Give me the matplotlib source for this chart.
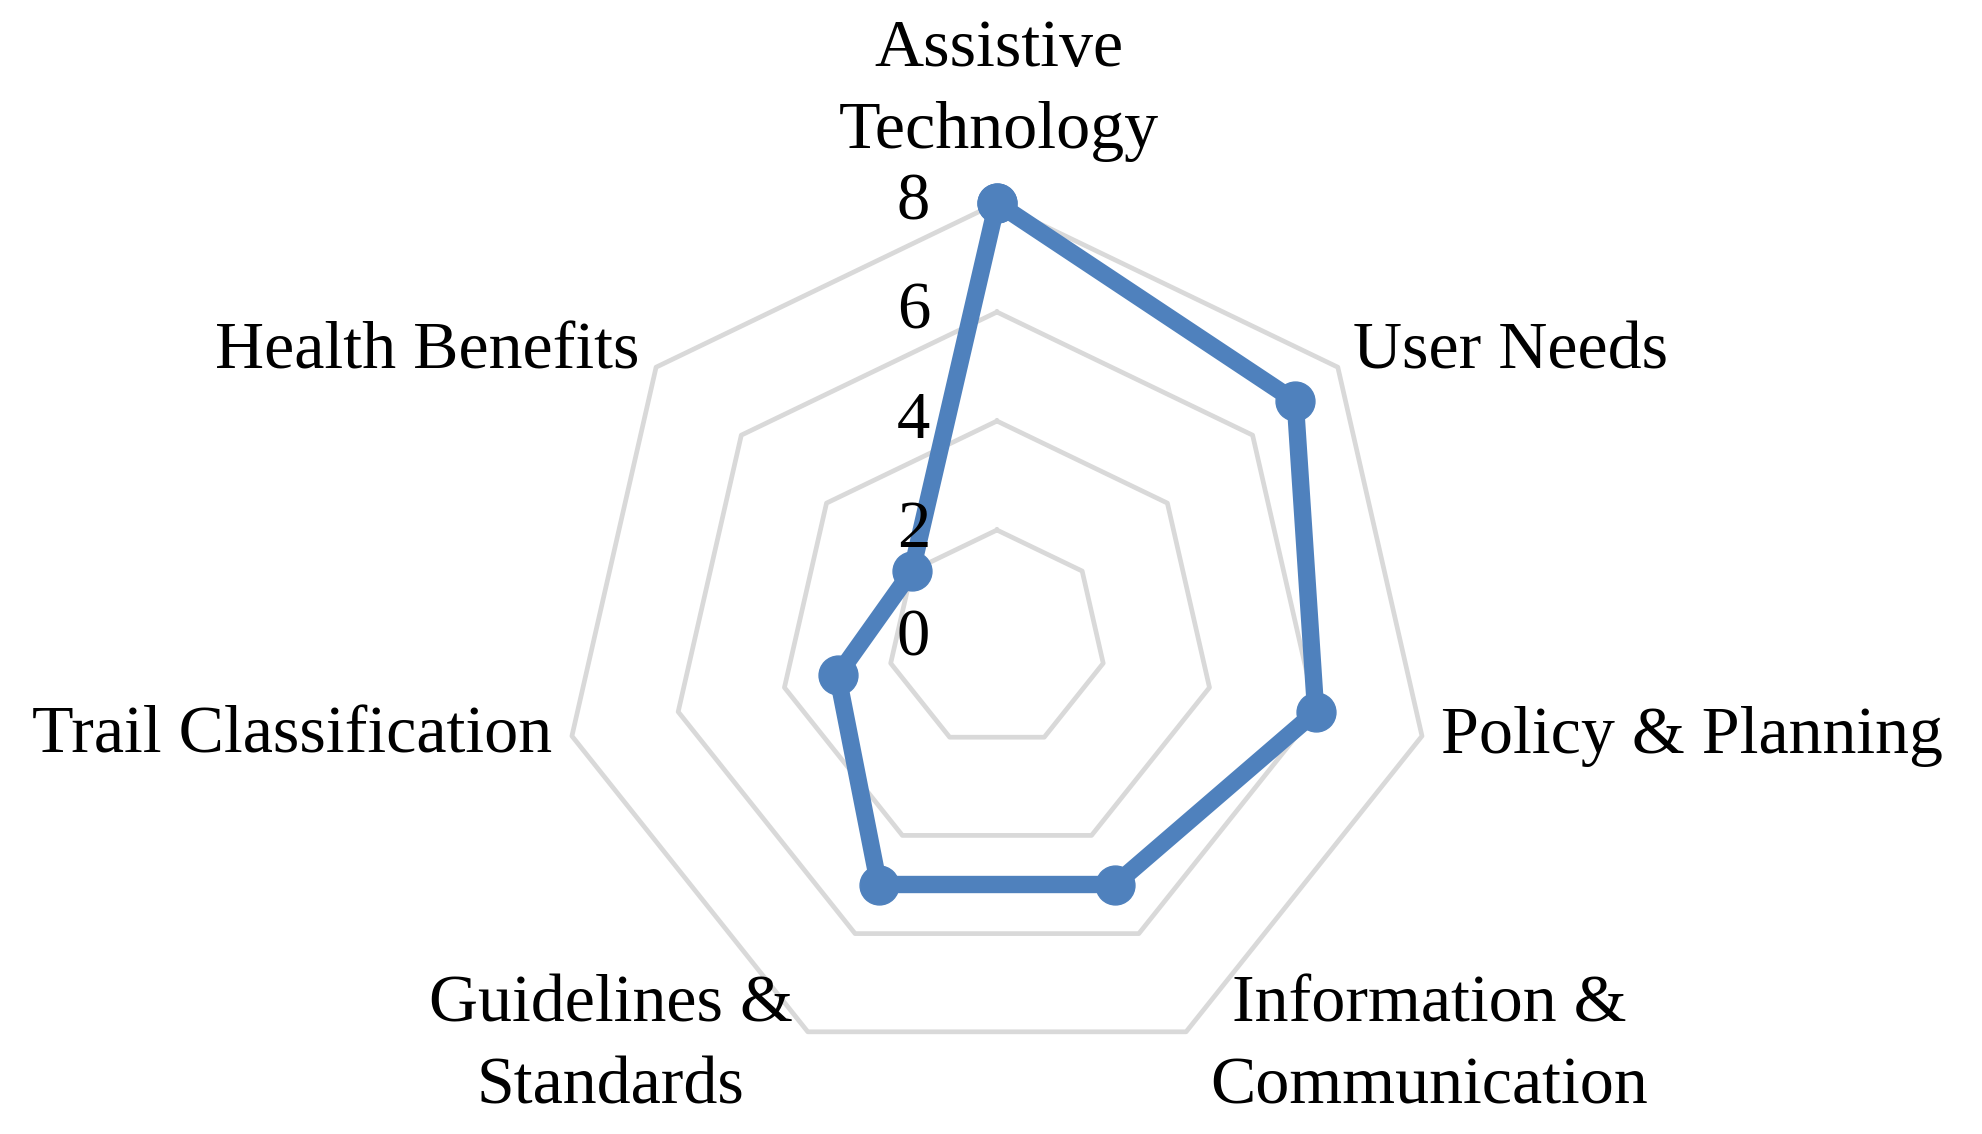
import numpy as np
import matplotlib
matplotlib.use("Agg")
import matplotlib.pyplot as plt

categories = ["Assistive\nTechnology", "User Needs", "Policy & Planning",
              "Information &\nCommunication", "Guidelines &\nStandards",
              "Trail Classification", "Health Benefits"]
values = [8, 7, 6, 5, 5, 3, 2]
grid_levels = [2, 4, 6, 8]
tick_labels = ["0", "2", "4", "6", "8"]

blue = "#4F81BD"
grid_color = "#D9D9D9"
plt.rcParams["font.family"] = ["Liberation Serif", "DejaVu Serif"]

fig = plt.figure(figsize=(19.83, 11.34), dpi=100)
ax = fig.add_axes([0.2829, 0.052, 0.4397, 0.769], projection="polar")
ax.set_theta_offset(np.pi / 2)
ax.set_theta_direction(-1)
ax.set_ylim(0, 8)
ax.axis("off")

n = len(categories)
angles = np.linspace(0, 2 * np.pi, n, endpoint=False)
closed = np.append(angles, angles[0])

# heptagon gridlines
for lvl in grid_levels:
    ax.plot(closed, [lvl] * (n + 1), color=grid_color, lw=3.4, zorder=1,
            clip_on=False)

# data series
vals = values + values[:1]
ax.plot(closed, vals, color=blue, lw=12.5, marker="o", markersize=28,
        solid_joinstyle="round", zorder=3, clip_on=False)

# radial tick labels on the vertical axis
for i, t in enumerate(tick_labels):
    ax.annotate(t, xy=(0, i * 2), xytext=(-60, 0), textcoords="offset points",
                ha="center", va="center", fontsize=48, zorder=4,
                annotation_clip=False)

# category labels (offsets in points from the outer vertex)
label_pos = [
    ((1.4, 81), "center", "center"),
    ((11, 11), "left", "center"),
    ((14, 0), "left", "center"),
    ((175, -10), "center", "center"),
    ((-142, -10), "center", "center"),
    ((-14, 0), "right", "center"),
    ((-12, 11), "right", "center"),
]
for ang, lab, (off, ha, va) in zip(angles, categories, label_pos):
    ax.annotate(lab, xy=(ang, 8), xytext=off, textcoords="offset points",
                ha=ha, va=va, multialignment="center", fontsize=49,
                linespacing=1.45, annotation_clip=False)

fig.savefig("out.png", dpi=100)
